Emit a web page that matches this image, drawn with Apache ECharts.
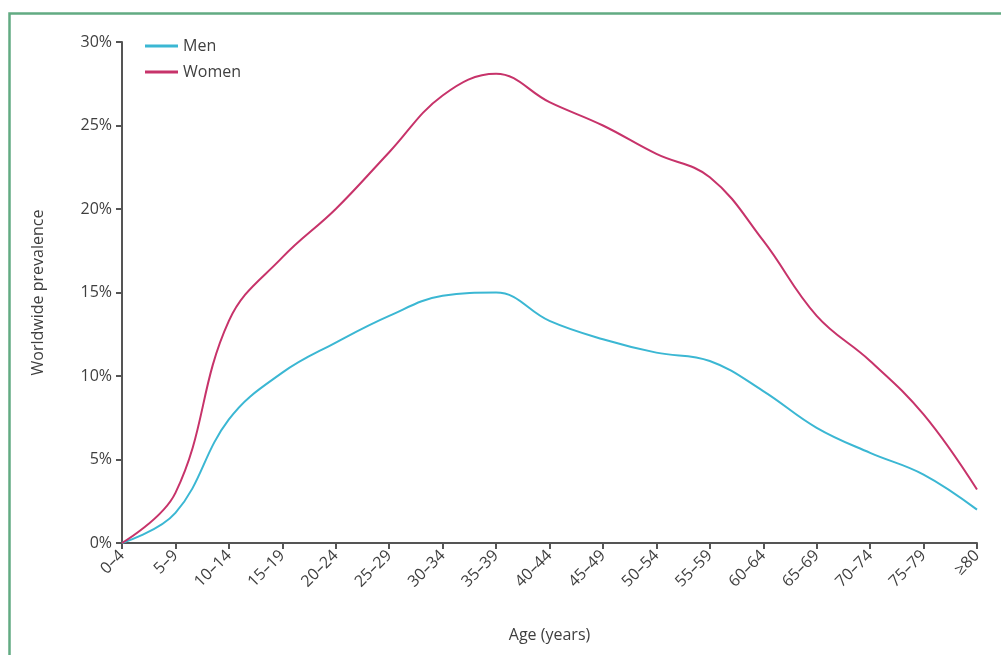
<!DOCTYPE html>
<html><head><meta charset="utf-8">
<script src="https://cdn.jsdelivr.net/npm/echarts@6/dist/echarts.min.js"></script>
<style>html,body{margin:0;padding:0;background:#fff}#c{width:1001px;height:655px}</style>
</head><body><div id="c"></div>
<script>
var categories = ['0–4','5–9','10–14','15–19','20–24','25–29','30–34','35–39','40–44','45–49','50–54','55–59','60–64','65–69','70–74','75–79','≥80'];
var men =   [0, 1.8, 7.4, 10.2, 12.0, 13.6, 14.8, 15.0, 13.3, 12.2, 11.4, 10.9, 9.1, 6.9, 5.4, 4.1, 2.0];
var women = [0, 3.0, 13.3, 17.1, 20.0, 23.4, 26.8, 28.1, 26.4, 25.0, 23.3, 21.9, 18.1, 13.6, 10.9, 7.7, 3.2];
var yTicks = [0, 5, 10, 15, 20, 25, 30];

var chart = echarts.init(document.getElementById('c'));
var font = 'Open Sans';
var txt = '#3f3f3f';
chart.setOption({
  animation: false,
  textStyle: {fontFamily: font},
  graphic: [{
    type: 'rect', shape: {x: 9.5, y: 13.5, width: 1100, height: 800},
    style: {fill: 'none', stroke: '#62ab82', lineWidth: 2.5}, silent: true
  }],
  legend: {
    orient: 'vertical', left: 140, top: 33, itemGap: 10,
    itemWidth: 33, itemHeight: 3, icon: 'rect',
    textStyle: {fontFamily: font, fontSize: 16, color: txt},
    data: ['Men', 'Women']
  },
  grid: {left: 122, right: 24, top: 42, bottom: 112, containLabel: false},
  xAxis: {
    type: 'category', data: categories, boundaryGap: false,
    name: 'Age (years)', nameLocation: 'middle', nameGap: 84,
    nameTextStyle: {fontFamily: font, fontSize: 16, color: txt},
    axisLine: {lineStyle: {color: '#555', width: 2}},
    axisTick: {alignWithLabel: true, length: 6, lineStyle: {color: '#555', width: 2}},
    axisLabel: {rotate: 45, fontSize: 16, color: txt, margin: 10, interval: 0, fontFamily: font},
    splitLine: {show: false}
  },
  yAxis: {
    type: 'value', min: 0, max: 30, interval: 5,
    name: 'Worldwide prevalence', nameLocation: 'middle', nameGap: 76,
    nameTextStyle: {fontFamily: font, fontSize: 16, color: txt},
    axisLine: {show: true, lineStyle: {color: '#555', width: 2}},
    axisTick: {show: true, length: 6, lineStyle: {color: '#555', width: 2}},
    axisLabel: {fontSize: 16, color: txt, margin: 10, fontFamily: font,
      formatter: function (v) { return yTicks.indexOf(v) >= 0 ? v + '%' : ''; }},
    splitLine: {show: false}
  },
  series: [
    {name: 'Men', type: 'line', data: men, smooth: 0.4, showSymbol: false,
     lineStyle: {color: '#3bb7d3', width: 2}, itemStyle: {color: '#3bb7d3'}},
    {name: 'Women', type: 'line', data: women, smooth: 0.4, showSymbol: false,
     lineStyle: {color: '#c7336a', width: 2}, itemStyle: {color: '#c7336a'}}
  ]
});
</script></body></html>
